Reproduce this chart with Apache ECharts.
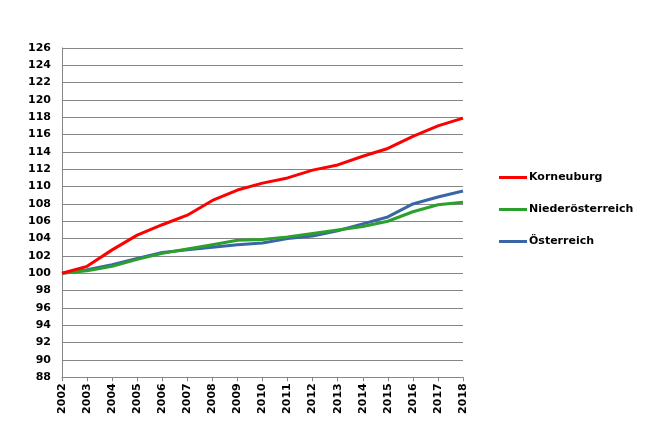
<!DOCTYPE html>
<html>
<head>
<meta charset="utf-8">
<script src="https://cdn.jsdelivr.net/npm/echarts@6/dist/echarts.min.js"></script>
<style>html,body{margin:0;padding:0;background:#fff;}#c{width:669px;height:432px;}</style>
</head>
<body>
<div id="c"></div>
<script>
const years = ['2002','2003','2004','2005','2006','2007','2008','2009','2010','2011','2012','2013','2014','2015','2016','2017','2018'];
const korneuburg = [100, 100.8, 102.7, 104.4, 105.6, 106.7, 108.4, 109.6, 110.4, 111.0, 111.9, 112.5, 113.5, 114.4, 115.8, 117.0, 117.9];
const niederoesterreich = [100, 100.3, 100.8, 101.6, 102.3, 102.8, 103.3, 103.8, 103.9, 104.2, 104.6, 105.0, 105.4, 106.0, 107.1, 107.9, 108.2];
const oesterreich = [100, 100.4, 101.0, 101.7, 102.4, 102.7, 103.0, 103.3, 103.5, 104.0, 104.3, 104.9, 105.7, 106.5, 108.0, 108.8, 109.5];
const seriesNames = ['Korneuburg', 'Niederösterreich', 'Österreich'];
const seriesColors = ['#ff0000', '#2ca02c', '#3a66a6'];

const chart = echarts.init(document.getElementById('c'), null, {renderer: 'canvas'});
const font = 'DejaVu Sans, Verdana, sans-serif';
const data = [korneuburg, niederoesterreich, oesterreich];
chart.setOption({
  animation: false,
  backgroundColor: '#fff',
  grid: {left: 62, right: 206, top: 47.9, bottom: 54.7, containLabel: false},
  legend: {
    orient: 'vertical',
    left: 494,
    top: 167,
    icon: 'rect',
    itemWidth: 28,
    itemHeight: 3,
    itemGap: 21,
    data: seriesNames,
    textStyle: {fontFamily: font, fontWeight: 'bold', fontSize: 11, color: '#000', padding: [0,0,0,-3]}
  },
  xAxis: {
    type: 'category',
    data: years,
    boundaryGap: false,
    axisLine: {lineStyle: {color: '#868686', width: 1}},
    axisTick: {show: true, length: 4, lineStyle: {color: '#868686'}},
    axisLabel: {rotate: 90, fontFamily: font, fontWeight: 'bold', fontSize: 11, color: '#000', margin: 6},
    splitLine: {show: false}
  },
  yAxis: {
    type: 'value',
    min: 88, max: 126, interval: 2,
    axisLine: {show: true, lineStyle: {color: '#868686', width: 1}},
    axisTick: {show: false},
    axisLabel: {fontFamily: font, fontWeight: 'bold', fontSize: 11, color: '#000', margin: 11},
    splitLine: {show: true, lineStyle: {color: '#868686', width: 1}}
  },
  series: seriesNames.map((n, i) => ({
    name: n,
    type: 'line',
    data: data[i],
    symbol: 'none',
    smooth: false,
    color: seriesColors[i],
    lineStyle: {width: 3, color: seriesColors[i]},
    z: 10 - i
  }))
});
</script>
</body>
</html>
